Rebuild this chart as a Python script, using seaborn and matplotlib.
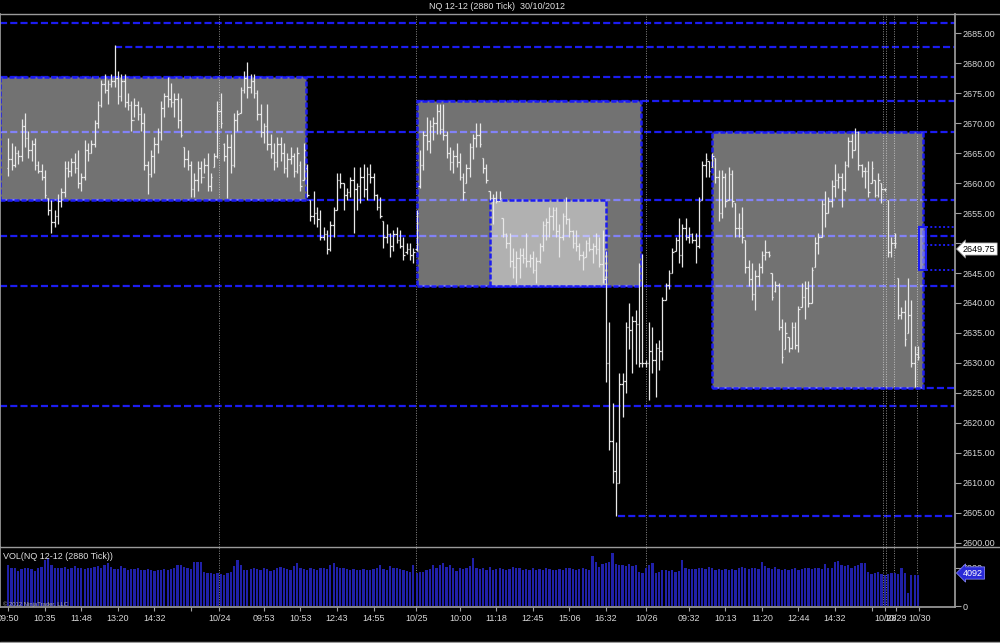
import numpy as np
import pandas as pd
import matplotlib.pyplot as plt
import seaborn as sns
from matplotlib.patches import Rectangle
from matplotlib.lines import Line2D

# NQ 12-12, 2880 tick bars (prices)
highs = [
    2667.5, 2666.75, 2666.25, 2665.5, 2670.75, 2671.75, 2668.75, 2667.25, 2667.5, 2663.75,
    2663.25, 2662.25, 2657.5, 2657.25, 2655.5, 2658.25, 2659.25, 2663.75, 2663.75, 2664.25,
    2665.0, 2665.5, 2661.75, 2667.25, 2666.75, 2667.25, 2670.5, 2673.75, 2677.25, 2678.25,
    2677.25, 2678.25, 2683.0, 2678.75, 2678.25, 2678.25, 2675.0, 2673.75, 2674.25, 2673.75,
    2672.75, 2671.75, 2663.75, 2665.5, 2667.75, 2669.25, 2673.75, 2675.0, 2677.75, 2676.75,
    2675.0, 2675.0, 2674.25, 2666.0, 2665.5, 2663.75, 2661.75, 2663.75, 2663.75, 2664.25,
    2665.0, 2661.75, 2665.0, 2673.75, 2675.0, 2666.75, 2668.25, 2668.25, 2671.75, 2672.25,
    2676.0, 2678.75, 2680.25, 2678.25, 2678.25, 2675.5, 2673.25, 2670.0, 2673.25, 2668.25,
    2666.75, 2667.75, 2667.75, 2666.75, 2665.0, 2666.0, 2665.0, 2666.0, 2663.75, 2666.75,
    2663.25, 2657.25, 2658.75, 2656.0, 2655.5, 2652.75, 2652.25, 2653.75, 2656.0, 2661.75,
    2661.75, 2660.0, 2659.25, 2661.0, 2662.75, 2660.0, 2662.75, 2663.25, 2662.75, 2663.25,
    2661.75, 2658.25, 2657.75, 2653.75, 2653.25, 2651.75, 2652.25, 2652.75, 2652.25, 2651.0,
    2650.0, 2650.0, 2649.25, 2655.5, 2665.5, 2668.75, 2671.0, 2670.5, 2671.0, 2673.25,
    2673.25, 2673.25, 2668.75, 2666.0, 2665.5, 2666.75, 2665.0, 2661.75, 2663.25, 2666.75,
    2668.25, 2670.0, 2670.0, 2664.25, 2663.25, 2658.75, 2658.25, 2658.75, 2658.75, 2654.25,
    2651.75, 2651.75, 2649.25, 2648.75, 2649.25, 2649.25, 2651.75, 2648.25, 2648.75, 2647.75,
    2650.0, 2653.75, 2654.25, 2656.0, 2656.0, 2656.0, 2653.25, 2655.0, 2657.75, 2654.25,
    2652.25, 2652.25, 2650.0, 2648.75, 2650.5, 2651.0, 2650.0, 2651.75, 2651.0, 2652.25,
    2648.75, 2636.75, 2623.25, 2616.75, 2628.25, 2628.25, 2636.75, 2640.0, 2637.75, 2638.75,
    2646.75, 2648.25, 2630.5, 2636.75, 2636.0, 2633.25, 2633.75, 2641.0, 2643.25, 2645.5,
    2649.25, 2651.0, 2654.25, 2653.25, 2654.25, 2652.75, 2651.75, 2651.75, 2657.75, 2663.75,
    2665.0, 2663.75, 2665.0, 2664.25, 2662.25, 2662.25, 2661.75, 2662.75, 2662.25, 2656.75,
    2655.0, 2656.0, 2650.5, 2647.25, 2646.75, 2645.5, 2646.75, 2648.75, 2650.5, 2648.75,
    2645.0, 2643.75, 2643.25, 2637.25, 2636.75, 2634.25, 2636.75, 2636.75, 2639.5, 2643.25,
    2643.75, 2643.75, 2646.0, 2651.0, 2651.75, 2657.25, 2658.75, 2657.75, 2660.5, 2663.25,
    2661.75, 2661.75, 2663.75, 2667.75, 2668.25, 2669.25, 2668.75, 2663.25, 2662.75, 2663.75,
    2663.75, 2660.5, 2661.75, 2660.0, 2659.25, 2657.25, 2651.0, 2651.75, 2644.25, 2639.25,
    2640.5, 2644.25, 2640.5, 2632.75, 2632.75,
]
lows = [
    2661.25, 2662.25, 2662.75, 2663.25, 2663.75, 2666.0, 2664.25, 2663.75, 2662.25, 2661.75,
    2660.5, 2657.5, 2654.75, 2651.75, 2652.75, 2653.25, 2656.0, 2657.75, 2661.0, 2661.25,
    2661.75, 2659.25, 2658.75, 2660.5, 2663.75, 2665.0, 2666.0, 2669.25, 2672.75, 2675.0,
    2673.25, 2676.0, 2676.0, 2673.25, 2673.75, 2672.75, 2672.25, 2668.75, 2671.0, 2670.5,
    2668.75, 2662.25, 2658.25, 2661.0, 2661.75, 2665.0, 2667.25, 2671.0, 2672.75, 2672.75,
    2671.0, 2669.25, 2667.75, 2662.75, 2662.25, 2657.75, 2657.75, 2658.75, 2660.0, 2661.75,
    2658.75, 2658.75, 2662.75, 2664.25, 2669.25, 2663.75, 2657.5, 2661.75, 2662.75, 2668.75,
    2671.75, 2675.0, 2674.25, 2675.0, 2674.25, 2670.5, 2667.75, 2666.75, 2665.5, 2664.25,
    2662.25, 2662.75, 2663.75, 2661.75, 2661.0, 2663.25, 2661.0, 2661.75, 2658.75, 2660.5,
    2657.75, 2653.75, 2653.25, 2652.75, 2650.5, 2650.5, 2648.25, 2648.75, 2651.0, 2655.5,
    2659.25, 2655.5, 2657.25, 2657.75, 2651.75, 2655.5, 2656.75, 2657.75, 2657.25, 2660.0,
    2657.25, 2655.5, 2654.25, 2649.25, 2650.0, 2647.75, 2648.75, 2650.0, 2649.25, 2647.25,
    2648.25, 2647.25, 2646.75, 2648.75, 2659.25, 2662.25, 2665.5, 2665.0, 2667.25, 2668.25,
    2668.25, 2667.25, 2664.25, 2662.25, 2661.75, 2662.75, 2660.5, 2657.25, 2660.0, 2661.0,
    2664.0, 2666.0, 2666.0, 2661.75, 2660.0, 2657.25, 2653.25, 2656.75, 2657.25, 2651.0,
    2649.25, 2646.0, 2644.25, 2643.25, 2644.25, 2646.75, 2646.0, 2646.0, 2645.0, 2643.25,
    2646.75, 2648.75, 2650.5, 2651.0, 2652.25, 2651.0, 2647.75, 2650.5, 2653.25, 2651.0,
    2649.25, 2648.75, 2647.25, 2645.5, 2647.75, 2648.75, 2646.75, 2648.25, 2646.0, 2643.25,
    2626.75, 2615.5, 2610.0, 2604.5, 2610.0, 2621.0, 2625.0, 2632.25, 2628.25, 2629.75,
    2629.25, 2629.25, 2629.25, 2623.75, 2628.25, 2624.25, 2628.75, 2630.5, 2640.5, 2642.25,
    2645.0, 2648.75, 2646.75, 2646.0, 2650.5, 2650.0, 2650.0, 2646.75, 2649.25, 2657.25,
    2661.0, 2661.0, 2662.75, 2660.0, 2653.75, 2654.25, 2656.0, 2657.25, 2656.0, 2651.0,
    2651.0, 2650.0, 2645.0, 2642.75, 2640.5, 2638.75, 2642.75, 2645.0, 2647.25, 2647.75,
    2640.5, 2641.75, 2635.5, 2630.0, 2632.25, 2631.75, 2632.25, 2632.25, 2631.75, 2639.25,
    2637.25, 2639.25, 2640.0, 2646.0, 2648.25, 2651.0, 2652.75, 2655.0, 2656.0, 2657.75,
    2659.25, 2656.0, 2658.75, 2662.75, 2664.25, 2665.5, 2662.25, 2661.0, 2659.25, 2657.75,
    2660.0, 2657.75, 2657.75, 2656.75, 2658.75, 2647.75, 2647.75, 2649.25, 2637.25, 2637.25,
    2632.75, 2635.0, 2629.25, 2626.0, 2630.5,
]
opens = [
    2662.5, 2664.0, 2663.0, 2665.0, 2664.5, 2669.5, 2667.5, 2665.5, 2666.5, 2663.0,
    2662.0, 2661.0, 2657.5, 2655.5, 2653.5, 2654.5, 2657.0, 2658.5, 2662.5, 2662.0,
    2663.5, 2662.5, 2660.0, 2661.0, 2665.5, 2665.0, 2666.5, 2670.0, 2673.0, 2676.5,
    2675.5, 2676.5, 2677.0, 2677.5, 2674.5, 2677.0, 2673.5, 2673.0, 2670.5, 2673.0,
    2671.5, 2670.0, 2663.0, 2661.5, 2664.5, 2666.5, 2668.5, 2672.5, 2674.5, 2674.0,
    2673.5, 2674.0, 2670.5, 2666.0, 2664.0, 2663.0, 2659.0, 2660.5, 2662.5, 2661.0,
    2663.0, 2659.5, 2662.75, 2664.5, 2672.0, 2666.5, 2664.5, 2666.0, 2663.0, 2670.5,
    2671.75, 2675.5, 2677.5, 2676.0, 2677.0, 2675.0, 2671.5, 2668.5, 2669.5, 2666.5,
    2665.0, 2663.5, 2666.5, 2665.0, 2662.5, 2664.0, 2664.5, 2662.0, 2663.0, 2660.5,
    2662.5, 2657.25, 2654.5, 2655.0, 2654.0, 2651.0, 2651.5, 2649.0, 2653.0, 2655.5,
    2660.5, 2660.0, 2658.0, 2658.5, 2660.5, 2659.0, 2659.5, 2661.0, 2659.0, 2661.5,
    2661.0, 2658.0, 2656.0, 2653.75, 2651.0, 2651.5, 2649.5, 2651.5, 2650.5, 2649.5,
    2648.5, 2649.0, 2648.0, 2649.0, 2659.5, 2663.0, 2668.0, 2667.0, 2669.5, 2670.0,
    2672.0, 2669.0, 2668.0, 2665.0, 2663.5, 2664.5, 2663.5, 2661.0, 2660.0, 2662.5,
    2666.0, 2667.5, 2668.0, 2664.25, 2662.5, 2658.75, 2657.5, 2657.5, 2657.0, 2654.25,
    2651.5, 2650.0, 2647.0, 2646.0, 2647.5, 2648.0, 2647.5, 2647.0, 2647.5, 2645.5,
    2647.0, 2649.5, 2653.0, 2653.5, 2654.5, 2655.5, 2652.0, 2651.0, 2654.5, 2654.0,
    2652.0, 2650.0, 2649.5, 2648.0, 2647.75, 2650.0, 2649.0, 2649.5, 2649.0, 2646.5,
    2644.0, 2630.0, 2617.0, 2612.0, 2610.0, 2626.5, 2627.0, 2636.0, 2635.5, 2637.0,
    2636.5, 2630.0, 2630.0, 2630.0, 2632.0, 2630.5, 2632.5, 2632.0, 2640.5, 2643.0,
    2645.0, 2648.75, 2650.5, 2648.0, 2652.5, 2651.0, 2651.5, 2650.5, 2649.5, 2657.25,
    2663.0, 2663.75, 2662.75, 2664.25, 2661.0, 2655.0, 2661.0, 2657.25, 2661.5, 2656.75,
    2652.5, 2652.5, 2650.5, 2646.0, 2644.0, 2641.5, 2644.5, 2646.0, 2648.0, 2648.5,
    2645.0, 2642.0, 2643.0, 2636.0, 2632.25, 2634.25, 2632.5, 2636.0, 2633.0, 2639.25,
    2641.0, 2642.5, 2640.0, 2646.0, 2650.0, 2651.0, 2656.5, 2655.0, 2657.0, 2659.5,
    2660.5, 2661.0, 2659.0, 2663.0, 2667.0, 2665.5, 2668.5, 2663.0, 2662.0, 2662.0,
    2660.0, 2660.5, 2658.0, 2660.0, 2659.0, 2657.25, 2648.5, 2650.0, 2644.25, 2638.0,
    2638.5, 2635.0, 2638.0, 2630.0, 2631.5,
]
closes = [
    2664.0, 2663.0, 2665.0, 2664.5, 2669.5, 2667.5, 2665.5, 2666.5, 2663.0, 2662.0,
    2661.0, 2658.0, 2655.5, 2653.5, 2654.5, 2657.0, 2658.5, 2662.5, 2662.0, 2663.5,
    2662.5, 2660.0, 2661.0, 2665.5, 2665.0, 2666.5, 2670.0, 2673.0, 2676.5, 2675.5,
    2676.5, 2677.0, 2677.5, 2674.5, 2677.0, 2673.5, 2673.0, 2670.5, 2673.0, 2671.5,
    2670.0, 2663.0, 2661.5, 2664.5, 2666.5, 2668.5, 2672.5, 2674.5, 2674.0, 2673.5,
    2674.0, 2670.5, 2668.0, 2664.0, 2663.0, 2659.0, 2660.5, 2662.5, 2661.0, 2663.0,
    2659.5, 2661.0, 2664.5, 2672.0, 2670.0, 2664.5, 2666.0, 2663.0, 2670.5, 2671.5,
    2675.5, 2677.5, 2676.0, 2677.0, 2675.0, 2671.5, 2668.5, 2669.5, 2666.5, 2665.0,
    2663.5, 2666.5, 2665.0, 2662.5, 2664.0, 2664.5, 2662.0, 2665.0, 2659.5, 2665.5,
    2658.0, 2654.5, 2655.0, 2654.0, 2651.0, 2651.5, 2649.0, 2653.0, 2655.5, 2660.5,
    2660.0, 2658.0, 2658.5, 2660.5, 2659.0, 2659.5, 2661.0, 2659.0, 2661.5, 2661.0,
    2658.0, 2656.0, 2654.5, 2651.0, 2651.5, 2649.5, 2651.5, 2650.5, 2649.5, 2648.0,
    2649.0, 2648.0, 2648.5, 2655.0, 2663.0, 2668.0, 2667.0, 2669.5, 2670.0, 2672.0,
    2669.0, 2668.0, 2665.0, 2663.5, 2664.5, 2663.5, 2661.0, 2658.5, 2662.5, 2666.0,
    2667.5, 2668.0, 2666.5, 2662.5, 2660.5, 2657.5, 2657.5, 2657.0, 2657.5, 2651.5,
    2650.0, 2647.0, 2646.0, 2647.5, 2648.0, 2647.5, 2647.0, 2647.5, 2645.5, 2647.0,
    2649.5, 2653.0, 2653.5, 2654.5, 2655.5, 2652.0, 2651.0, 2654.5, 2654.0, 2652.0,
    2650.0, 2649.5, 2648.0, 2647.5, 2650.0, 2649.0, 2649.5, 2649.0, 2646.5, 2644.0,
    2630.0, 2617.0, 2612.0, 2610.0, 2626.5, 2627.0, 2636.0, 2635.5, 2637.0, 2636.5,
    2630.0, 2630.0, 2630.0, 2632.0, 2630.5, 2632.5, 2632.0, 2640.5, 2643.0, 2645.0,
    2648.5, 2650.5, 2648.0, 2652.5, 2651.0, 2651.5, 2650.5, 2649.5, 2657.0, 2663.0,
    2664.0, 2662.0, 2664.5, 2661.0, 2655.0, 2661.0, 2657.0, 2661.5, 2657.0, 2652.5,
    2652.5, 2651.0, 2646.0, 2644.0, 2641.5, 2644.5, 2646.0, 2648.0, 2648.5, 2648.0,
    2641.0, 2643.0, 2636.0, 2631.0, 2635.0, 2632.5, 2636.0, 2633.0, 2639.0, 2641.0,
    2642.5, 2640.0, 2645.5, 2650.0, 2651.0, 2656.5, 2655.0, 2657.0, 2659.5, 2660.5,
    2661.0, 2659.0, 2663.0, 2667.0, 2665.5, 2668.5, 2663.0, 2662.0, 2662.0, 2658.5,
    2662.5, 2658.0, 2660.5, 2659.0, 2659.0, 2648.5, 2650.0, 2650.0, 2638.0, 2638.5,
    2634.0, 2638.0, 2630.0, 2631.5, 2631.0,
]
volumes = [
    5300, 4900, 5000, 4600, 4800, 4900, 4900, 4800, 4600, 5000,
    5100, 6000, 6200, 5400, 5000, 4900, 4900, 5100, 4800, 4900,
    5200, 4900, 5000, 4800, 4900, 4900, 5100, 5200, 5000, 5300,
    5600, 5100, 4800, 4800, 5200, 4900, 4700, 4800, 4800, 4900,
    4700, 4700, 4800, 4700, 4600, 4700, 4700, 4800, 4700, 4800,
    4900, 5300, 5300, 5100, 4900, 4800, 5800, 5800, 5800, 4400,
    4300, 4300, 4200, 4300, 4200, 4100, 4300, 4500, 5200, 6000,
    5400, 4700, 4700, 4800, 4900, 4800, 4700, 4900, 4800, 4600,
    4700, 4900, 5100, 5000, 4800, 4700, 5200, 5600, 5000, 4800,
    4700, 4900, 4800, 4700, 4900, 5000, 4800, 5400, 5600, 5100,
    5000, 4900, 4800, 4700, 4800, 4700, 4700, 4800, 4700, 4700,
    4800, 4900, 5300, 4800, 4700, 5200, 5000, 4900, 4800, 4700,
    4600, 4500, 5400, 4300, 4400, 4500, 4700, 4800, 5400, 5000,
    5300, 5600, 5100, 5400, 4900, 4600, 5000, 4800, 4900, 5200,
    6300, 5000, 4800, 4900, 4700, 5100, 4700, 4800, 5000, 4800,
    4700, 4800, 5100, 4900, 5000, 4700, 4800, 4700, 4900, 4700,
    4800, 4700, 4900, 4800, 4700, 4700, 4800, 4700, 5000, 4900,
    4800, 4700, 4800, 4900, 4800, 4700, 6500, 5700, 5100, 5500,
    5600, 5800, 6900, 5500, 5300, 5300, 5200, 5500, 5200, 5400,
    4400, 4300, 4900, 5300, 5600, 4300, 4500, 4700, 4700, 4600,
    4700, 4500, 4600, 6000, 4900, 4800, 4800, 4800, 4900, 5000,
    4800, 5100, 4900, 4700, 4800, 4700, 4800, 4700, 4800, 4700,
    4900, 5100, 5000, 4800, 4900, 5000, 4800, 5800, 5200, 4900,
    4800, 5100, 4800, 4700, 4800, 4700, 4800, 4900, 4700, 4800,
    5000, 4900, 4800, 5000, 4900, 4800, 5500, 4900, 5000, 5800,
    5900, 5400, 5200, 5300, 5000, 5200, 5400, 5600, 5600, 4400,
    4200, 4300, 4400, 4200, 4100, 4200, 4300, 4300, 4200, 5000,
    4300, 1700, 4100, 4100, 4092,
]
assert len(highs) == len(lows) == len(opens) == len(closes) == len(volumes)

# blue dashed levels: price and first bar
level_prices = [2686.75, 2682.75, 2677.75, 2673.75, 2668.5, 2657.25, 2651.25,
                2642.75, 2625.75, 2622.75, 2604.5]
level_starts = [-2.5, 32.0, -2.5, 123.0, -2.5, -2.5, -2.5, -2.5, 212.0, -2.5, 183.5]

# rectangles: first bar, last bar, top, bottom
rect_x0 = [-2.5, 123.0, 212.0, 145.1]
rect_x1 = [89.7, 190.5, 275.5, 180.0]
rect_top = [2677.75, 2673.75, 2668.5, 2657.25]
rect_bottom = [2657.25, 2642.75, 2625.75, 2642.75]

session_breaks = [63.6, 122.9, 192.2, 263.5, 264.5, 266.8, 273.6]
tick_pos = [0, 11, 22, 33, 44, 55, 63.6, 77, 88, 99, 110, 122.9, 136.2, 147, 158,
            169, 180, 192.2, 205, 216, 227, 238, 249, 260.3, 264.2, 267.4, 274.4]
tick_lab = ['09:50', '10:35', '11:48', '13:20', '14:32', '', '10/24', '09:53', '10:53',
            '12:43', '14:55', '10/25', '10:00', '11:18', '12:45', '15:06', '16:32',
            '10/26', '09:32', '10:13', '11:20', '12:44', '14:32', '', '10/28', '10/29',
            '10/30']
price_ticks = [2600, 2605, 2610, 2615, 2620, 2625, 2630, 2635, 2640, 2645, 2650,
               2655, 2660, 2665, 2670, 2675, 2680, 2685]

bars = pd.DataFrame({'open': opens, 'high': highs, 'low': lows, 'close': closes,
                     'volume': volumes})
bars['bar'] = np.arange(len(bars))

sns.set_theme(style='dark', rc={
    'axes.facecolor': 'black', 'figure.facecolor': 'black',
    'savefig.facecolor': 'black', 'axes.edgecolor': '#9a9a9a',
    'text.color': '#dcdcdc', 'xtick.color': '#dcdcdc', 'ytick.color': '#dcdcdc',
    'axes.grid': False,
})
plt.rcParams['font.family'] = ['Liberation Sans', 'DejaVu Sans']

W, H = 1000, 643
fig = plt.figure(figsize=(10, 6.43), dpi=100)
ax = fig.add_axes([0, 1 - 547 / H, 955 / W, (547 - 14) / H])
vax = fig.add_axes([0, 1 - 607 / H, 955 / W, 60 / H])

XMIN, XMAX = -2.5, 285.15
BLUE = '#1c1cf0'

# levels
for p, s in zip(level_prices, level_starts):
    ax.hlines(p, s, XMAX, color=BLUE, lw=1.6, ls=(0, (3.2, 1.4)), zorder=1)

# rectangles, semi-transparent white over the levels
for x0, x1, t, b in zip(rect_x0, rect_x1, rect_top, rect_bottom):
    ax.add_patch(Rectangle((x0, b), x1 - x0, t - b, facecolor=(1, 1, 1, 0.45),
                           edgecolor=BLUE, lw=1.8, ls=(0, (2, 0.8)), zorder=2))

# small box on the last bar + dotted marks
ax.add_patch(Rectangle((274.3, 2645.5), 2.1, 7.25, facecolor=(0.7, 0.7, 1, 0.5),
                       edgecolor=BLUE, lw=1.5, zorder=4))
for p in [2652.75, 2649.75, 2645.5]:
    ax.hlines(p, 276.4, XMAX, color=BLUE, lw=1.4, ls=(0, (1, 1.2)), zorder=1)

for s in session_breaks:
    ax.axvline(s, color='#8a8a8a', lw=0.7, ls=(0, (1, 1.5)), zorder=1.5)
    vax.axvline(s, color='#8a8a8a', lw=0.7, ls=(0, (1, 1.5)), zorder=0.5)

# OHLC bars
ax.vlines(bars['bar'], bars['low'], bars['high'], color='#e8e8e8', lw=0.9, zorder=3)
ax.hlines(bars['open'], bars['bar'] - 0.45, bars['bar'], color='#e8e8e8', lw=0.9, zorder=3)
ax.hlines(bars['close'], bars['bar'], bars['bar'] + 0.45, color='#e8e8e8', lw=0.9, zorder=3)

ax.set_xlim(XMIN, XMAX)
ax.set_ylim(2599.33, 2688.17)
ax.yaxis.tick_right()
ax.set_yticks(price_ticks)
# 2650.00 sits under the last-price marker in the reference
ax.set_yticklabels(['' if p == 2650 else f'{p:.2f}' for p in price_ticks])
ax.tick_params(axis='y', labelsize=6.5, labelcolor='#d8d8d8', color='#a0a0a0',
               length=4, width=0.8, pad=1.5, direction='out', right=True, left=False)
ax.set_xticks([])
for side in ['top', 'bottom']:
    ax.spines[side].set_visible(False)
ax.spines['left'].set_color('#9a9a9a')
ax.spines['right'].set_color('#9a9a9a')

# volume panel
sns.barplot(data=bars, x='bar', y='volume', native_scale=True, color='#2020a8',
            saturation=1, width=0.68, errorbar=None, linewidth=0, ax=vax)
vax.set_xlim(XMIN, XMAX)
vax.set_ylim(-130, 7700)
vax.set_xlabel('')
vax.set_ylabel('')
vax.yaxis.tick_right()
vax.set_yticks([0, 5000])
vax.set_yticklabels(['0', '5000'])
vax.tick_params(axis='y', labelsize=6.5, labelcolor='#d8d8d8', color='#a0a0a0',
                length=4, width=0.8, pad=1.5, right=True, left=False)
vax.set_xticks(tick_pos)
vax.set_xticklabels(tick_lab)
vax.tick_params(axis='x', labelsize=6.5, labelcolor='#d8d8d8', color='#a0a0a0',
                length=3, width=0.8, pad=2, bottom=True)
vax.spines['top'].set_visible(False)
for side in ['left', 'right', 'bottom']:
    vax.spines[side].set_color('#9a9a9a')
vax.text(0.003, 0.84, 'VOL(NQ 12-12 (2880 Tick))', transform=vax.transAxes,
         fontsize=6.5, color='#e0e0e0', va='center', ha='left')
vax.text(0.003, 0.05, '\u00a9 2012 NinjaTrader, LLC', transform=vax.transAxes,
         fontsize=4.2, color='#b0b0b0', va='center', ha='left')

# frame lines
for y in [14, 547, 642]:
    fig.add_artist(Line2D([0, 1], [1 - y / H, 1 - y / H], color='#9a9a9a', lw=1))

# title and value markers
fig.text(0.497, 1 - 6.5 / H, 'NQ 12-12 (2880 Tick)  30/10/2012', ha='center',
         va='center', fontsize=6.5, color='#e0e0e0')
fig.text(963 / W, 1 - 249 / H, '2649.75', ha='left', va='center', fontsize=6.5,
         color='black', bbox=dict(boxstyle='larrow,pad=0.18', fc='white',
                                  ec='#808080', lw=0.5))
fig.text(963 / W, 1 - 573 / H, '4092', ha='left', va='center', fontsize=6.5,
         color='white', bbox=dict(boxstyle='larrow,pad=0.18', fc='#2a2ad8',
                                  ec='#9090ff', lw=0.5))

fig.savefig('out.png', dpi=100, facecolor='black')
